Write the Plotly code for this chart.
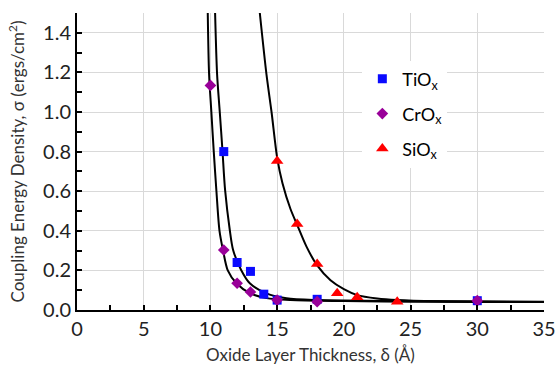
import plotly.graph_objects as go

# Measured data points
tiox_x = [11, 12, 13, 14, 15, 18, 30]
tiox_y = [0.80, 0.24, 0.195, 0.08, 0.05, 0.054, 0.047]

crox_x = [10, 11, 12, 13, 15, 18, 30]
crox_y = [1.134, 0.303, 0.135, 0.091, 0.05, 0.042, 0.047]

siox_x = [15, 16.5, 18, 19.5, 21, 24]
siox_y = [0.753, 0.434, 0.232, 0.084, 0.064, 0.042]

# Fit curves
crox_fit_x = [9.80, 9.90, 10.07, 10.25, 10.45, 10.68, 10.95, 11.3, 11.95, 12.95, 14.2, 16, 20, 25, 35]
crox_fit_y = [1.50, 1.19, 1.00, 0.80, 0.60, 0.40, 0.30, 0.20, 0.135, 0.085, 0.06, 0.05, 0.045, 0.042, 0.04]

tiox_fit_x = [10.35, 10.5, 10.7, 10.9, 11.1, 11.45, 11.7, 12.3, 12.95, 14.2, 15.7, 18, 25, 35]
tiox_fit_y = [1.50, 1.19, 1.00, 0.807, 0.605, 0.404, 0.303, 0.202, 0.135, 0.084, 0.059, 0.05, 0.045, 0.042]

siox_fit_x = [13.7, 14.2, 14.58, 15.0, 15.4, 16.0, 16.5, 17.2, 18.0, 19.0, 20.0, 21.0, 22.5, 24.0, 27, 35]
siox_fit_y = [1.50, 1.19, 1.00, 0.77, 0.64, 0.51, 0.43, 0.32, 0.225, 0.15, 0.105, 0.075, 0.058, 0.05, 0.044, 0.04]

font_family = "Lato, 'Open Sans', sans-serif"

fig = go.Figure()

for fx, fy in [(crox_fit_x, crox_fit_y), (tiox_fit_x, tiox_fit_y), (siox_fit_x, siox_fit_y)]:
    fig.add_trace(go.Scatter(x=fx, y=fy, mode="lines",
                             line=dict(color="black", width=2, shape="spline", smoothing=0.8),
                             showlegend=False, hoverinfo="skip"))

fig.add_trace(go.Scatter(x=tiox_x, y=tiox_y, mode="markers", name="TiO<sub>x</sub>",
                         legendgroup="a",
                         marker=dict(symbol="square", size=9, color="#0a0aff")))
fig.add_trace(go.Scatter(x=crox_x, y=crox_y, mode="markers", name="CrO<sub>x</sub>",
                         legendgroup="b",
                         marker=dict(symbol="diamond", size=9, color="#990099")))
fig.add_trace(go.Scatter(x=siox_x, y=siox_y, mode="markers", name="SiO<sub>x</sub>",
                         legendgroup="c",
                         marker=dict(symbol="triangle-up", size=11, color="#ff0000")))

fig.update_layout(
    width=557, height=366,
    margin=dict(l=77, r=13, t=13, b=56, autoexpand=False),
    paper_bgcolor="white", plot_bgcolor="white",
    font=dict(family=font_family, color="black"),
    legend=dict(x=0.611, y=0.84, xanchor="left", yanchor="top",
                bgcolor="white", font=dict(size=18, color="black"),
                tracegroupgap=8.5),
    xaxis=dict(range=[0, 35], tick0=0, dtick=5, showgrid=True, gridcolor="#d9d9d9",
               gridwidth=1, showline=True, linecolor="black", linewidth=2,
               ticks="inside", ticklen=5, tickwidth=1.5, tickcolor="black",
               minor=dict(dtick=2.5, ticks="inside", ticklen=5, tickcolor="black", showgrid=False),
               tickfont=dict(size=20, color="#222222"), zeroline=False, automargin=False,
               title=dict(text="Oxide Layer Thickness, δ (Å)", font=dict(size=17, color="#333333"),
                          standoff=10)),
    yaxis=dict(range=[0, 1.5], tick0=0, dtick=0.2, tickformat=".1f", showgrid=True,
               gridcolor="#d9d9d9", gridwidth=1, showline=True, linecolor="black", linewidth=2,
               ticks="inside", ticklen=5, tickwidth=1.5, tickcolor="black",
               minor=dict(dtick=0.1, ticks="inside", ticklen=5, tickcolor="black", showgrid=False),
               tickfont=dict(size=20, color="#222222"), zeroline=False, automargin=False,
               title=dict(text="Coupling Energy Density, σ (ergs/cm<sup>2</sup>)",
                          font=dict(size=17, color="#333333"), standoff=14)),
)

fig.write_html("out.html", post_script="document.body.style.margin='0px';",
               config={"displayModeBar": False})
